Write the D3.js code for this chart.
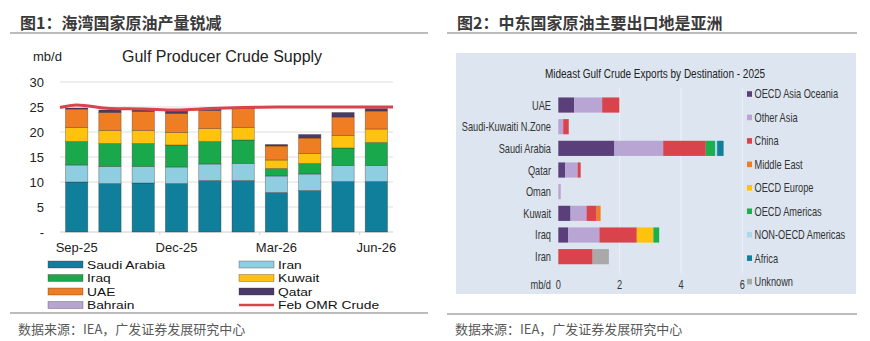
<!DOCTYPE html>
<html><head><meta charset="utf-8">
<script src="https://cdn.jsdelivr.net/npm/d3@7"></script>
<style>
html,body{margin:0;padding:0;background:#fff;}
svg{display:block;}
.sans{font-family:"Liberation Sans",Arial,sans-serif;}
.cjk{font-family:"Noto Sans CJK SC",sans-serif;}
</style></head>
<body>
<svg id="c" width="870" height="341"></svg>
<script>
// ---------- Figure 1 data ----------
const months = ["Sep-25","Oct-25","Nov-25","Dec-25","Jan-26","Feb-26","Mar-26","Apr-26","May-26","Jun-26"];
const shownMonths = ["Sep-25","Dec-25","Mar-26","Jun-26"];
const producers = ["Saudi Arabia","Iran","Iraq","Kuwait","UAE","Qatar","Bahrain"];
const saudiArabia = [10.0, 9.7, 9.8, 9.7, 10.3, 10.3, 7.9, 8.3, 10.1, 10.1];
const iran        = [3.4, 3.4, 3.3, 3.3, 3.3, 3.4, 3.3, 3.3, 3.2, 3.2];
const iraq        = [4.7, 4.6, 4.6, 4.4, 4.5, 4.7, 1.5, 2.1, 3.5, 4.6];
const kuwait      = [2.8, 2.6, 2.6, 2.5, 2.6, 2.5, 1.7, 2.0, 2.5, 2.7];
const uae         = [3.7, 3.6, 3.8, 3.8, 3.6, 3.8, 2.8, 3.1, 3.7, 3.6];
const qatar       = [0.2, 0.5, 0.3, 0.5, 0.3, 0.2, 0.3, 0.7, 0.9, 0.5];
const bahrain     = [0, 0, 0, 0, 0, 0, 0, 0, 0, 0];
const febOmrCrude = [25.4, 24.7, 24.6, 24.4, 24.7, 24.9, 25.0, 25.0, 25.0, 25.0];
const yTicks = [0, 5, 10, 15, 20, 25, 30];

// ---------- Figure 2 data ----------
const exporters = ["UAE","Saudi-Kuwaiti N.Zone","Saudi Arabia","Qatar","Oman","Kuwait","Iraq","Iran"];
const destinations = ["OECD Asia Oceania","Other Asia","China","Middle East","OECD Europe","OECD Americas","NON-OECD Americas","Africa","Unknown"];
const oecdAsiaOceania  = [0.52, 0.00, 1.83, 0.22, 0.00, 0.40, 0.32, 0.00];
const otherAsia        = [0.91, 0.16, 1.59, 0.41, 0.08, 0.52, 1.02, 0.00];
const china            = [0.56, 0.18, 1.39, 0.10, 0.00, 0.33, 1.22, 1.12];
const middleEast       = [0.00, 0.00, 0.00, 0.00, 0.00, 0.13, 0.00, 0.00];
const oecdEurope       = [0.00, 0.00, 0.00, 0.00, 0.00, 0.00, 0.54, 0.00];
const oecdAmericas     = [0.00, 0.00, 0.30, 0.00, 0.00, 0.00, 0.19, 0.00];
const nonOecdAmericas  = [0.00, 0.00, 0.07, 0.00, 0.00, 0.00, 0.00, 0.00];
const africa           = [0.00, 0.00, 0.21, 0.00, 0.00, 0.00, 0.00, 0.00];
const unknownDest      = [0.00, 0.00, 0.00, 0.00, 0.00, 0.00, 0.00, 0.53];
const xTicks2 = [0, 2, 4, 6];

const svg = d3.select("#c");

// condensed text helper (horizontal squeeze of Liberation Sans)
function narrow(parent, x, y, txt, size, anchor, fill){
  const g = parent.append("g").attr("transform",`translate(${x},${y}) scale(0.77,1)`);
  g.append("text").attr("class","sans").attr("x",0).attr("y",0)
    .attr("text-anchor",anchor||"start").attr("dominant-baseline","central")
    .attr("font-size",size).attr("fill",fill||"#333").text(txt);
  return g;
}

// ================= Figure 1 =================
const col1 = {"Saudi Arabia":"#0f7f9b","Iran":"#8fcde0","Iraq":"#19a84b","Kuwait":"#ffc20e","UAE":"#ee7d23","Qatar":"#4b3a68","Bahrain":"#b6a5d2"};
const series1 = [saudiArabia, iran, iraq, kuwait, uae, qatar, bahrain];
const rows1 = months.map((m,i)=>{const o={month:m}; producers.forEach((p,j)=>o[p]=series1[j][i]); return o;});
const stack1 = d3.stack().keys(producers)(rows1);

const x1 = d3.scaleBand().domain(months).range([60,393]).paddingInner(0.33).paddingOuter(0.165);
const y1 = d3.scaleLinear().domain([0,30]).range([232,82]);

svg.append("text").attr("class","cjk").attr("x",20).attr("y",22).attr("dominant-baseline","central")
  .attr("font-size",16).attr("font-weight",700).attr("fill","#3a3a3a").text("图1：海湾国家原油产量锐减");
svg.append("line").attr("x1",10).attr("x2",428).attr("y1",33).attr("y2",33).attr("stroke","#a6a6a6").attr("stroke-width",1.6);

const g1 = svg.append("g");
g1.selectAll(".grid").data(yTicks.filter(d=>d>0)).join("line")
  .attr("x1",60).attr("x2",393).attr("y1",d=>y1(d)).attr("y2",d=>y1(d))
  .attr("stroke","#dedede").attr("stroke-width",1);
g1.append("line").attr("x1",60).attr("x2",393).attr("y1",y1(0)).attr("y2",y1(0)).attr("stroke","#cfcfcf");
["Dec-25","Mar-26","Jun-26"].forEach(m=>{
  const xb = x1(m) - x1.step()*x1.paddingInner()/2;
  g1.append("line").attr("x1",xb).attr("x2",xb).attr("y1",y1(0)).attr("y2",y1(0)+3).attr("stroke","#cfcfcf");
});
g1.selectAll(".yl").data(yTicks).join("text").attr("class","sans")
  .attr("x",44).attr("y",d=>y1(d)).attr("text-anchor","end").attr("dominant-baseline","central")
  .attr("font-size",13).attr("fill","#222").text(d=>d===0?"-":d);
g1.append("text").attr("class","sans").attr("x",33).attr("y",61).attr("font-size",13).attr("fill","#222").text("mb/d");
g1.append("text").attr("class","sans").attr("x",122).attr("y",62).attr("font-size",16).attr("fill","#222").text("Gulf Producer Crude Supply");

g1.selectAll(".layer").data(stack1).join("g").attr("fill",d=>col1[d.key])
  .selectAll("rect").data(d=>d).join("rect")
  .attr("x",d=>x1(d.data.month)).attr("width",x1.bandwidth())
  .attr("y",d=>y1(d[1])).attr("height",d=>Math.max(0,y1(d[0])-y1(d[1])))
  .attr("stroke",d=>(d[1]-d[0])>0?"rgba(60,40,40,0.45)":"none").attr("stroke-width",0.7);

const linePts = [[x1.range()[0], febOmrCrude[0]-0.5]].concat(months.map((m,i)=>[x1(m)+x1.bandwidth()/2, febOmrCrude[i]])).concat([[x1.range()[1], febOmrCrude[febOmrCrude.length-1]]]);
g1.append("path").datum(linePts).attr("fill","none").attr("stroke","#d9434b").attr("stroke-width",3)
  .attr("d", d3.line().x(d=>d[0]).y(d=>y1(d[1])).curve(d3.curveMonotoneX));

g1.selectAll(".xl").data(shownMonths).join("text").attr("class","sans")
  .attr("x",d=>x1(d)+x1.bandwidth()/2).attr("y",247).attr("text-anchor","middle").attr("dominant-baseline","central")
  .attr("font-size",13).attr("fill","#222").text(d=>d);

const leg1 = [
  {k:"Saudi Arabia",c:0,r:0},{k:"Iran",c:1,r:0},
  {k:"Iraq",c:0,r:1},{k:"Kuwait",c:1,r:1},
  {k:"UAE",c:0,r:2},{k:"Qatar",c:1,r:2},
  {k:"Bahrain",c:0,r:3},{k:"Feb OMR Crude",c:1,r:3,line:true}];
const lg = g1.selectAll(".lg").data(leg1).join("g")
  .attr("transform",d=>`translate(${d.c?239:48},${264.5+d.r*13.5})`);
lg.filter(d=>!d.line).append("rect").attr("x",0).attr("y",-3.5).attr("width",35).attr("height",7)
  .attr("fill",d=>col1[d.k]).attr("stroke","rgba(60,40,40,0.45)").attr("stroke-width",0.7);
lg.filter(d=>d.line).append("line").attr("x1",0).attr("x2",35).attr("y1",0).attr("y2",0).attr("stroke","#d9434b").attr("stroke-width",2.5);
lg.append("g").attr("transform","translate(39,0) scale(1.06,0.89)")
  .append("text").attr("class","sans").attr("x",0).attr("y",0).attr("dominant-baseline","central")
  .attr("font-size",13).attr("fill","#111").text(d=>d.k);

svg.append("line").attr("x1",10).attr("x2",428).attr("y1",313).attr("y2",313).attr("stroke","#a6a6a6").attr("stroke-width",1.6);
svg.append("text").attr("class","cjk").attr("x",18).attr("y",328).attr("dominant-baseline","central")
  .attr("font-size",13).attr("fill","#595959").text("数据来源：IEA，广发证券发展研究中心");

// ================= Figure 2 =================
svg.append("text").attr("class","cjk").attr("x",457).attr("y",22).attr("dominant-baseline","central")
  .attr("font-size",16).attr("font-weight",700).attr("fill","#3a3a3a").text("图2：中东国家原油主要出口地是亚洲");
svg.append("line").attr("x1",447).attr("x2",857).attr("y1",33).attr("y2",33).attr("stroke","#a6a6a6").attr("stroke-width",1.6);
svg.append("rect").attr("x",456).attr("y",53).attr("width",400).attr("height",241).attr("fill","#dde6f0");

const col2 = {"OECD Asia Oceania":"#5a3f7a","Other Asia":"#b9a5d3","China":"#d9434b","Middle East":"#ee7d23","OECD Europe":"#ffc20e","OECD Americas":"#1caf4e","NON-OECD Americas":"#a9d9ea","Africa":"#12809b","Unknown":"#a9a9a9"};
const series2 = [oecdAsiaOceania, otherAsia, china, middleEast, oecdEurope, oecdAmericas, nonOecdAmericas, africa, unknownDest];
const rows2 = exporters.map((e,i)=>{const o={exp:e}; destinations.forEach((d,j)=>o[d]=series2[j][i]); return o;});
const stack2 = d3.stack().keys(destinations)(rows2);

const x2 = d3.scaleLinear().domain([0,6]).range([558.3,742.3]);
const y2 = d3.scaleBand().domain(exporters).range([94.2,267.5]).paddingInner(0.3).paddingOuter(0.15);
const g2 = svg.append("g");

narrow(g2, 655, 73, "Mideast Gulf Crude Exports by Destination -  2025", 13, "middle", "#222");

g2.selectAll(".vg").data(xTicks2.filter(d=>d>0)).join("line")
  .attr("x1",d=>x2(d)).attr("x2",d=>x2(d)).attr("y1",88).attr("y2",273)
  .attr("stroke","#eef2f7").attr("stroke-width",1);

g2.selectAll(".layer2").data(stack2).join("g").attr("fill",d=>col2[d.key])
  .selectAll("rect").data(d=>d).join("rect")
  .attr("y",d=>y2(d.data.exp)).attr("height",y2.bandwidth())
  .attr("x",d=>x2(d[0])).attr("width",d=>Math.max(0,x2(d[1])-x2(d[0])));

exporters.forEach(e=>narrow(g2, 551, y2(e)+y2.bandwidth()/2, e, 12, "end"));
xTicks2.forEach(t=>narrow(g2, x2(t), 285, String(t), 12, "middle"));
narrow(g2, 551, 285, "mb/d", 12, "end");

destinations.forEach((d,i)=>{
  const yy = 94 + i*23.45;
  g2.append("rect").attr("x",747).attr("y",yy-2.8).attr("width",5).attr("height",5.6).attr("fill",col2[d]);
  narrow(g2, 754.5, yy, d, 12, "start");
});

svg.append("line").attr("x1",447).attr("x2",857).attr("y1",314).attr("y2",314).attr("stroke","#a6a6a6").attr("stroke-width",1.6);
svg.append("text").attr("class","cjk").attr("x",455).attr("y",328).attr("dominant-baseline","central")
  .attr("font-size",13).attr("fill","#595959").text("数据来源：IEA，广发证券发展研究中心");
</script>
</body></html>
